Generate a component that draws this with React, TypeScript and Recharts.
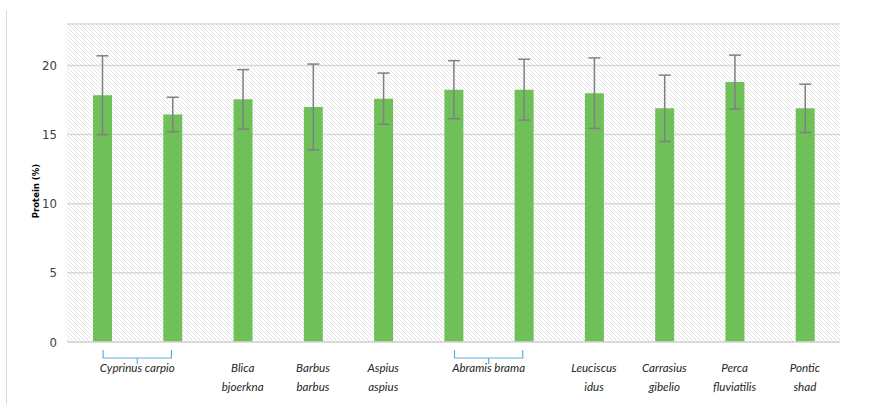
import React from 'react';
import { BarChart, Bar, XAxis, YAxis, CartesianGrid, ErrorBar } from 'recharts';

const categories = ['Cyprinus carpio 1', 'Cyprinus carpio 2', 'Blica bjoerkna', 'Barbus barbus', 'Aspius aspius', 'Abramis brama 1', 'Abramis brama 2', 'Leuciscus idus', 'Carrasius gibelio', 'Perca fluviatilis', 'Pontic shad'];
const proteinValues = [17.85, 16.45, 17.55, 17.0, 17.6, 18.25, 18.25, 18.0, 16.9, 18.8, 16.9];
const proteinErrors = [2.85, 1.25, 2.15, 3.1, 1.85, 2.1, 2.2, 2.55, 2.4, 1.95, 1.75];
const labelLines: string[][] = [['Cyprinus carpio'], [], ['Blica', 'bjoerkna'], ['Barbus', 'barbus'], ['Aspius', 'aspius'], ['Abramis brama'], [], ['Leuciscus', 'idus'], ['Carrasius', 'gibelio'], ['Perca', 'fluviatilis'], ['Pontic', 'shad']];
const groupSpans = [2, 0, 1, 1, 1, 2, 0, 1, 1, 1, 1];
const yTicks = [0, 5, 10, 15, 20];
const yTitle = 'Protein (%)';

const data = categories.map((c, i) => ({ name: c, value: proteinValues[i], err: proteinErrors[i] }));

const XTick = (props: any) => {
  const { x, y, payload, index } = props;
  const i = typeof index === 'number' ? index : categories.indexOf(payload.value);
  const lines = labelLines[i] || [];
  const span = groupSpans[i];
  const half = payload && payload.offset ? payload.offset : 35.15;
  const step = half * 2;
  const font = { fontFamily: 'Lato, "Open Sans", sans-serif', fontStyle: 'italic' as const, fontSize: 11.6, fill: '#262626' };
  if (span === 2) {
    const x2 = x + step;
    const cx = (x + x2) / 2;
    return (
      <g>
        <path d={`M${x + 1},${y + 8} L${x + 1},${y + 16} L${x2 - 1},${y + 16} L${x2 - 1},${y + 8} M${cx},${y + 16} L${cx},${y + 22}`} stroke="#5bb0e0" strokeWidth={1.2} fill="none" />
        <text x={cx} y={y + 30} textAnchor="middle" {...font}>{lines[0]}</text>
      </g>
    );
  }
  return (
    <g>
      {lines.map((l, k) => (
        <text key={k} x={x} y={y + 30 + k * 19} textAnchor="middle" {...font}>{l}</text>
      ))}
    </g>
  );
};

export default function App() {
  return (
    <div style={{ position: 'absolute', left: 0, top: 0, width: 878, height: 404, background: '#fff' }}>
      <div style={{ position: 'absolute', left: 6, top: 10, height: 394, borderLeft: '1px solid #d9d9d9' }} />
      <div style={{ position: 'absolute', left: 0, top: 0 }}>
        <BarChart width={878} height={404} data={data} margin={{ top: 24, right: 38, bottom: 0, left: 0 }} barCategoryGap={0}>
          <defs>
            <pattern id="hatch" width="4" height="4" patternUnits="userSpaceOnUse">
              <rect width="4" height="4" fill="#ffffff" />
              <path d="M-1,3 l2,2 M0,0 l4,4 M3,-1 l2,2" stroke="#dadada" strokeWidth={0.8} />
            </pattern>
          </defs>
          <CartesianGrid vertical={false} horizontal={true} stroke="#d9d9d9" strokeWidth={1.5} fill="url(#hatch)" fillOpacity={1} />
          <XAxis dataKey="name" interval={0} tickLine={false} tickSize={0} tickMargin={0} axisLine={{ stroke: '#d9d9d9', strokeWidth: 1.5 }} tick={<XTick />} height={62} />
          <YAxis type="number" domain={[0, 23]} ticks={yTicks} width={67} tickLine={false} axisLine={false} tickMargin={4}
            tick={{ fill: '#404040', fontSize: 13, fontFamily: '"Liberation Sans Narrow", "DejaVu Sans Condensed", sans-serif' }} />
          <Bar dataKey="value" fill="#70c05a" barSize={19} isAnimationActive={false}>
            <ErrorBar dataKey="err" width={6} stroke="#808080" strokeWidth={1.5} direction="y" />
          </Bar>
          <text x={39} y={191} transform="rotate(-90 39 191)" textAnchor="middle"
            style={{ fontSize: 8.5, fontWeight: 'bold', fontFamily: '"DejaVu Sans", Verdana, sans-serif', fill: '#000' }}>{yTitle}</text>
        </BarChart>
      </div>
    </div>
  );
}
